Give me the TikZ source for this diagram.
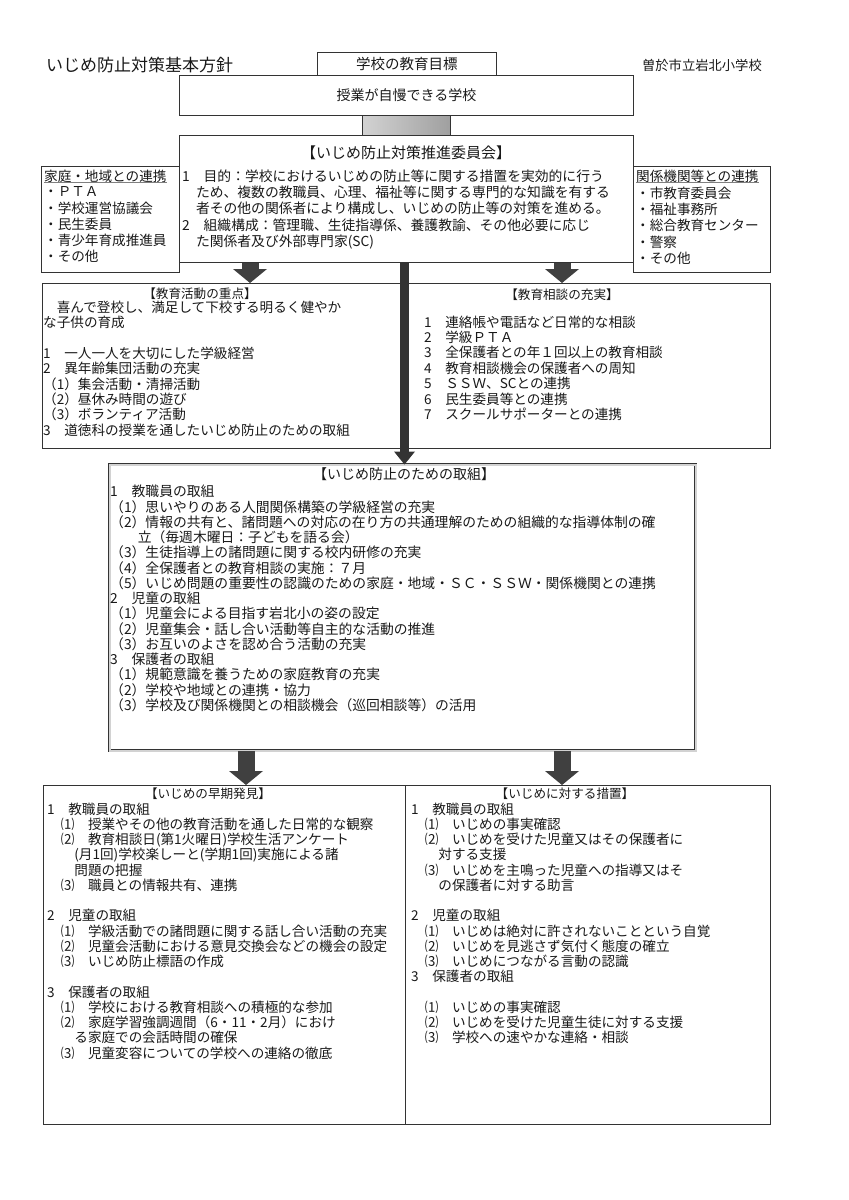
\documentclass[tikz,border=0pt]{standalone}
\usepackage{fontspec}
\setmainfont{Noto Sans CJK JP}
\usetikzlibrary{arrows.meta}

\tikzset{
  box/.style={draw=black!80, line width=0.9pt, inner sep=0pt, anchor=north west},
  txt/.style={anchor=north west, inner sep=0pt, align=left, text=black!90,
    font=\fontsize{13.6}{15.25}\selectfont},
  hdr/.style={inner sep=0pt, text=black!90, font=\fontsize{12.6}{14}\selectfont},
  fatarrow/.style={line width=17pt, black!75,
    -{Triangle[width=34pt,length=14pt,line width=0pt]}},
  midarrow/.style={line width=9pt, black!80,
    -{Triangle[width=21pt,length=13pt,line width=0pt]}},
}

\begin{document}
\begin{tikzpicture}[x=1pt, y=-1pt]

\fill[white] (0,0) rectangle (849,1200);
\useasboundingbox (0,0) rectangle (849,1200);

% Title line
\node[anchor=west, inner sep=0pt, text=black!90, font=\fontsize{17}{20}\selectfont] (title) at (46,65) {いじめ防止対策基本方針};
\node[anchor=east, inner sep=0pt, text=black!90, font=\fontsize{13.3}{16}\selectfont] (school) at (762,65) {曽於市立岩北小学校};

% Boxes of the top part
\node[box, minimum width=179pt, minimum height=23pt] (goal) at (317,52) {};
\node[box, minimum width=454pt, minimum height=40pt] (motto) at (179,75) {};
\node[box, minimum width=88pt, minimum height=20pt, left color=gray!35, right color=gray!75] (link) at (362,115) {};
\node[box, minimum width=138pt, minimum height=106pt] (home) at (41,166) {};
\node[box, minimum width=137pt, minimum height=106pt] (agency) at (633,166) {};
\node[box, minimum width=454pt, minimum height=127pt] (board) at (179,135) {};

\node[inner sep=0pt, text=black!90, font=\fontsize{14.5}{17}\selectfont] (goaltxt) at (goal.center) {学校の教育目標};
\node[inner sep=0pt, text=black!90, font=\fontsize{14}{17}\selectfont] (mottotxt) at (motto.center) {授業が自慢できる学校};

% Committee
\node[inner sep=0pt, text=black!90, font=\fontsize{15}{18}\selectfont] (boardhdr) at (406,153) {【いじめ防止対策推進委員会】};
\node[txt, font=\fontsize{13.8}{16.3}\selectfont] (boardtxt) at (182,169.4) {%
1　目的：学校におけるいじめの防止等に関する措置を実効的に行う\\
　ため、複数の教職員、心理、福祉等に関する専門的な知識を有する\\
　者その他の関係者により構成し、いじめの防止等の対策を進める。\\
2　組織構成：管理職、生徒指導係、養護教諭、その他必要に応じ\\
　た関係者及び外部専門家(SC)};

% Side boxes
\node[txt] (homehdr) at (44,169.6) {家庭・地域との連携};
\draw[gray] (homehdr.south west) -- (homehdr.south east);
\node[txt, font=\fontsize{13.6}{16.3}\selectfont] (homelist) at (44,186.5) {%
・ＰＴＡ\\
・学校運営協議会\\
・民生委員\\
・青少年育成推進員\\
・その他};

\node[txt] (agencyhdr) at (636,169.6) {関係機関等との連携};
\draw[gray] (agencyhdr.south west) -- (agencyhdr.south east);
\node[txt, font=\fontsize{13.6}{16.3}\selectfont] (agencylist) at (636,186.5) {%
・市教育委員会\\
・福祉事務所\\
・総合教育センター\\
・警察\\
・その他};

% Second row
\node[box, minimum width=362.5pt, minimum height=165pt] (focus) at (42,283) {};
\node[box, minimum width=365.5pt, minimum height=165pt] (consult) at (404.5,283) {};

\node[hdr] (focushdr) at (200,294) {【教育活動の重点】};
\node[txt, font=\fontsize{13.6}{15.4}\selectfont] (focustxt) at (43,300.5) {%
　喜んで登校し、満足して下校する明るく健やか\\
な子供の育成\\
\mbox{}\\
1　一人一人を大切にした学級経営\\
2　異年齢集団活動の充実\\
（1）集会活動・清掃活動\\
（2）昼休み時間の遊び\\
（3）ボランティア活動\\
3　道徳科の授業を通したいじめ防止のための取組};

\node[hdr] (consulthdr) at (562,295) {【教育相談の充実】};
\node[txt, font=\fontsize{13.6}{15.4}\selectfont] (consulttxt) at (424,315.5) {%
1　連絡帳や電話など日常的な相談\\
2　学級ＰＴＡ\\
3　全保護者との年１回以上の教育相談\\
4　教育相談機会の保護者への周知\\
5　ＳＳＷ、SCとの連携\\
6　民生委員等との連携\\
7　スクールサポーターとの連携};

% Third row
\node[box, minimum width=586pt, minimum height=286pt, line width=0.7pt, double=gray!35, double distance=1.6pt] (measures) at (109.5,464.5) {};

\node[inner sep=0pt, text=black!90, font=\fontsize{14}{17}\selectfont] (measureshdr) at (404,474) {【いじめ防止のための取組】};
\node[txt, font=\fontsize{13.8}{15.25}\selectfont] (measurestxt) at (110,485.1) {%
1　教職員の取組\\
（1）思いやりのある人間関係構築の学級経営の充実\\
（2）情報の共有と、諸問題への対応の在り方の共通理解のための組織的な指導体制の確\\
　　立（毎週木曜日：子どもを語る会）\\
（3）生徒指導上の諸問題に関する校内研修の充実\\
（4）全保護者との教育相談の実施：７月\\
（5）いじめ問題の重要性の認識のための家庭・地域・ＳＣ・ＳＳＷ・関係機関との連携\\
2　児童の取組\\
（1）児童会による目指す岩北小の姿の設定\\
（2）児童集会・話し合い活動等自主的な活動の推進\\
（3）お互いのよさを認め合う活動の充実\\
3　保護者の取組\\
（1）規範意識を養うための家庭教育の充実\\
（2）学校や地域との連携・協力\\
（3）学校及び関係機関との相談機会（巡回相談等）の活用};

% Bottom row
\node[box, minimum width=361.5pt, minimum height=339pt] (early) at (43,785) {};
\node[box, minimum width=365.5pt, minimum height=339pt] (response) at (404.5,785) {};

\node[hdr] (earlyhdr) at (208,794) {【いじめの早期発見】};
\node[txt] (earlytxt) at (47,802.5) {%
1　教職員の取組\\
　⑴　授業やその他の教育活動を通した日常的な観察\\
　⑵　教育相談日(第1火曜日)学校生活アンケート\\
　　(月1回)学校楽しーと(学期1回)実施による諸\\
　　問題の把握\\
　⑶　職員との情報共有、連携\\
\mbox{}\\
2　児童の取組\\
　⑴　学級活動での諸問題に関する話し合い活動の充実\\
　⑵　児童会活動における意見交換会などの機会の設定\\
　⑶　いじめ防止標語の作成\\
\mbox{}\\
3　保護者の取組\\
　⑴　学校における教育相談への積極的な参加\\
　⑵　家庭学習強調週間（6・11・2月）におけ\\
　　る家庭での会話時間の確保\\
　⑶　児童変容についての学校への連絡の徹底};

\node[hdr] (responsehdr) at (565,794) {【いじめに対する措置】};
\node[txt] (responsetxt) at (411,802.5) {%
1　教職員の取組\\
　⑴　いじめの事実確認\\
　⑵　いじめを受けた児童又はその保護者に\\
　　対する支援\\
　⑶　いじめを主鳴った児童への指導又はそ\\
　　の保護者に対する助言\\
\mbox{}\\
2　児童の取組\\
　⑴　いじめは絶対に許されないことという自覚\\
　⑵　いじめを見逃さず気付く態度の確立\\
　⑶　いじめにつながる言動の認識\\
3　保護者の取組\\
\mbox{}\\
　⑴　いじめの事実確認\\
　⑵　いじめを受けた児童生徒に対する支援\\
　⑶　学校への速やかな連絡・相談};

% Arrows between the parts
\coordinate (colL) at (250,0);
\coordinate (colR) at (562,0);
\coordinate (colM) at (404.5,0);
\coordinate (colLL) at (246,0);
\draw[fatarrow] (board.south -| colL) -- (focus.north -| colL);
\draw[fatarrow] (board.south -| colR) -- (consult.north -| colR);
\draw[midarrow] (board.south -| colM) -- (measures.north -| colM);
\draw[fatarrow] (measures.south -| colLL) -- (early.north -| colLL);
\draw[fatarrow] (measures.south -| colR) -- (response.north -| colR);

\end{tikzpicture}
\end{document}
